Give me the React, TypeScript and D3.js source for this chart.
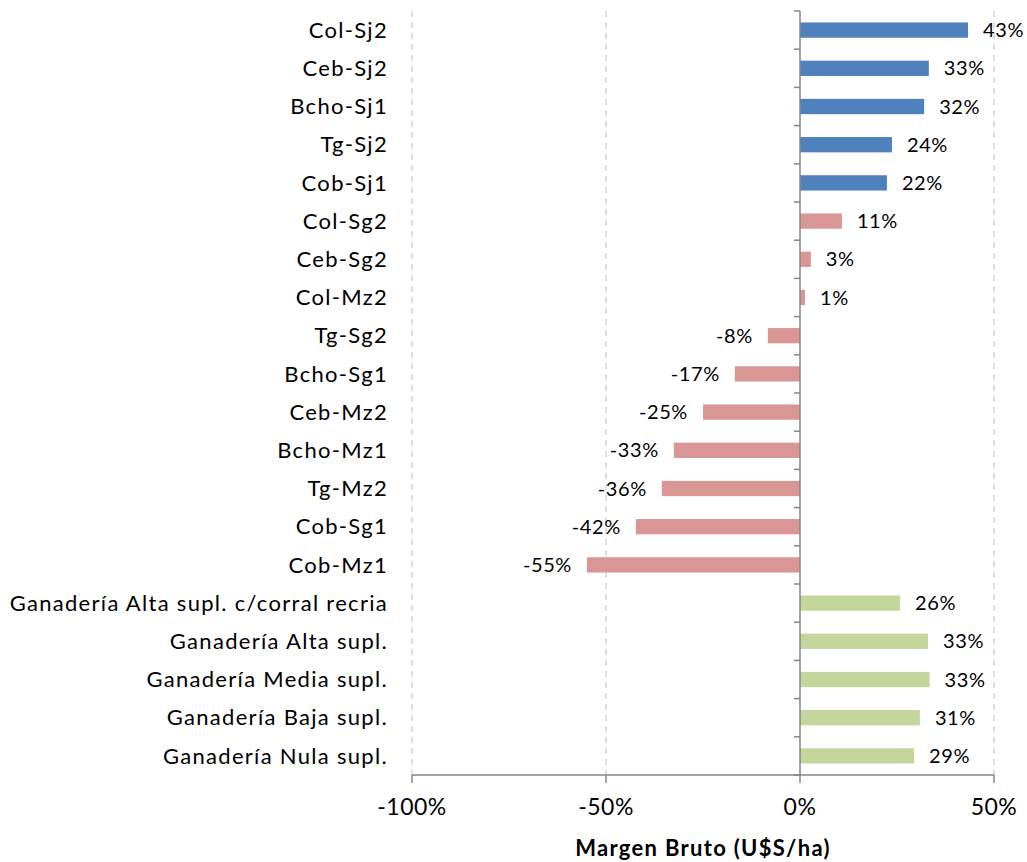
import { useEffect } from 'react';
import * as d3 from 'd3';

// categorias de arriba hacia abajo
const categories = [
  'Col-Sj2', 'Ceb-Sj2', 'Bcho-Sj1', 'Tg-Sj2', 'Cob-Sj1',
  'Col-Sg2', 'Ceb-Sg2', 'Col-Mz2', 'Tg-Sg2', 'Bcho-Sg1',
  'Ceb-Mz2', 'Bcho-Mz1', 'Tg-Mz2', 'Cob-Sg1', 'Cob-Mz1',
  'Ganadería Alta supl. c/corral recria', 'Ganadería Alta supl.',
  'Ganadería Media supl.', 'Ganadería Baja supl.', 'Ganadería Nula supl.',
];
const values = [
  0.433, 0.332, 0.32, 0.237, 0.224,
  0.108, 0.028, 0.013, -0.083, -0.168,
  -0.25, -0.325, -0.356, -0.423, -0.549,
  0.258, 0.33, 0.334, 0.309, 0.294,
];
// grupo de cada barra: soja, otros cultivos, ganaderia
const groups = [
  'soja', 'soja', 'soja', 'soja', 'soja',
  'cult', 'cult', 'cult', 'cult', 'cult',
  'cult', 'cult', 'cult', 'cult', 'cult',
  'gan', 'gan', 'gan', 'gan', 'gan',
];
const xTicks = [-1, -0.5, 0, 0.5];
const xTitle = 'Margen Bruto (U$S/ha)';

const colors: Record<string, string> = { soja: '#4F81BD', cult: '#D99694', gan: '#C3D69B' };

const width = 1027;
const height = 862;
const left = 412;
const right = 994;
const top = 11;
const bottom = 775;
const font = 'Lato, "Open Sans", sans-serif';
const fs = 22;

export default function App() {
  useEffect(() => {
    document.body.style.margin = '0';
  }, []);

  const x = d3.scaleLinear().domain([-1, 0.5]).range([left, right]);
  const y = d3.scaleBand().domain(categories).range([top, bottom]).paddingInner(0.6).paddingOuter(0.3);
  const step = y.step();
  const pct = (v: number) => d3.format('.0%')(v).replace('\u2212', '-');
  const grid = xTicks.filter(t => t !== 0);

  return (
    <svg width={width} height={height} style={{ display: 'block' }}>
      {/* lineas de grilla */}
      {grid.map(t => (
        <line key={t} x1={x(t)} x2={x(t)} y1={top} y2={bottom}
          stroke="#BFBFBF" strokeWidth={1} strokeDasharray="6,5" />
      ))}

      {/* barras */}
      {values.map((v, i) => (
        <rect key={i}
          x={Math.min(x(0), x(v))}
          y={y(categories[i])}
          width={Math.abs(x(v) - x(0))}
          height={y.bandwidth()}
          fill={colors[groups[i]]} />
      ))}

      {/* etiquetas de datos */}
      {values.map((v, i) => (
        <text key={i}
          x={v >= 0 ? x(v) + 15 : x(v) - 15}
          y={y(categories[i])! + y.bandwidth() / 2}
          dy="0.35em"
          textAnchor={v >= 0 ? 'start' : 'end'}
          fontFamily={font} fontSize={fs - 2} letterSpacing={0.6} fill="#000">
          {pct(v)}
        </text>
      ))}

      {/* eje vertical en 0 */}
      <line x1={x(0)} x2={x(0)} y1={top} y2={bottom} stroke="#868686" strokeWidth={1.5} />
      {d3.range(categories.length + 1).map(i => (
        <line key={i} x1={x(0) - 6} x2={x(0)} y1={top + i * step} y2={top + i * step}
          stroke="#868686" strokeWidth={1.5} />
      ))}

      {/* categorias */}
      {categories.map(c => (
        <text key={c} x={388} y={y(c)! + y.bandwidth() / 2} dy="0.35em" textAnchor="end"
          fontFamily={font} fontSize={fs} letterSpacing={1.3} fill="#000">
          {c}
        </text>
      ))}

      {/* eje horizontal */}
      <line x1={left} x2={right} y1={bottom} y2={bottom} stroke="#868686" strokeWidth={1.5} />
      {xTicks.map(t => (
        <g key={t}>
          <line x1={x(t)} x2={x(t)} y1={bottom} y2={bottom + 8} stroke="#868686" strokeWidth={1.5} />
          <text x={x(t)} y={bottom + 40} textAnchor="middle" fontFamily={font} fontSize={fs + 1}
            letterSpacing={0.5} fill="#000">
            {pct(t)}
          </text>
        </g>
      ))}
      <text x={(left + right) / 2} y={856} textAnchor="middle" fontFamily={font}
        fontSize={fs} fontWeight="bold" letterSpacing={1.3} fill="#000">
        {xTitle}
      </text>
    </svg>
  );
}
